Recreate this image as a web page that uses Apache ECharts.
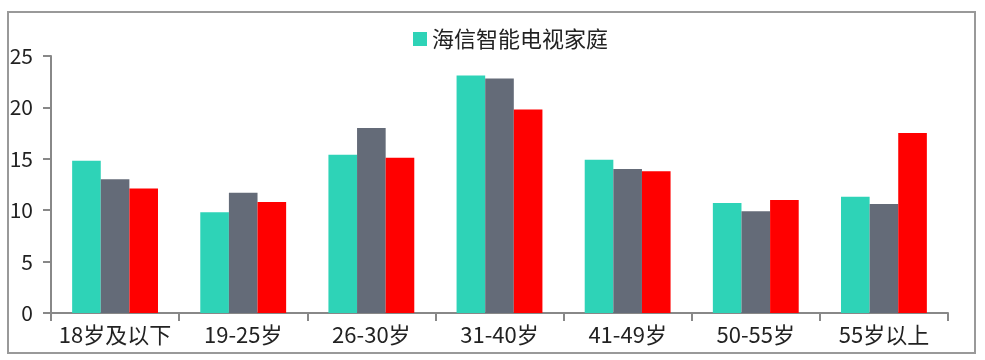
<!DOCTYPE html>
<html><head><meta charset="utf-8">
<script src="https://cdn.jsdelivr.net/npm/echarts@6/dist/echarts.min.js"></script>
<style>html,body{margin:0;padding:0;background:#fff}#c{width:985px;height:360px}</style>
</head><body><div id="c"></div>
<script>
const categories = ['18岁及以下','19-25岁','26-30岁','31-40岁','41-49岁','50-55岁','55岁以上'];
const seriesNames = ['海信智能电视家庭','对比组一','对比组二'];
const tealValues = [14.8, 9.8, 15.4, 23.1, 14.9, 10.7, 11.3];
const grayValues = [13.0, 11.7, 18.0, 22.8, 14.0, 9.9, 10.6];
const redValues  = [12.1, 10.8, 15.1, 19.8, 13.8, 11.0, 17.5];
const yTicks = [0, 5, 10, 15, 20, 25];

const font = '"Noto Sans CJK SC", "Noto Sans", sans-serif';
const chart = echarts.init(document.getElementById('c'), null, {renderer:'canvas'});
chart.setOption({
  animation:false,
  backgroundColor:'#ffffff',
  textStyle:{fontFamily:font},
  graphic:[{type:'rect', shape:{x:8,y:12,width:967,height:341}, style:{fill:'none', stroke:'#999999', lineWidth:2}, silent:true}],
  legend:{data:[seriesNames[0]], top:23, left:408, itemWidth:14, itemHeight:14, itemGap:8, icon:'rect',
    textStyle:{fontSize:22, color:'#222', fontFamily:font}},
  grid:{left:51, right:37, top:56, bottom:47, containLabel:false},
  xAxis:{type:'category', data:categories,
    axisLine:{lineStyle:{color:'#888', width:2}},
    axisTick:{show:true, length:8, lineStyle:{color:'#888', width:2}},
    axisLabel:{fontSize:22, color:'#222', margin:11, interval:0, fontFamily:font}},
  yAxis:{type:'value', min:yTicks[0], max:yTicks[yTicks.length-1], interval:5,
    splitLine:{show:false},
    axisLine:{show:true, lineStyle:{color:'#888', width:2}},
    axisTick:{show:true, length:8, lineStyle:{color:'#888', width:2}},
    axisLabel:{fontSize:21, color:'#222', margin:18, fontFamily:font}},
  series:[
    {name:seriesNames[0], type:'bar', data:tealValues, itemStyle:{color:'#2ED3B7'}, barGap:'0%', barCategoryGap:'33%'},
    {name:seriesNames[1], type:'bar', data:grayValues, itemStyle:{color:'#646B78'}, barGap:'0%', barCategoryGap:'33%'},
    {name:seriesNames[2], type:'bar', data:redValues, itemStyle:{color:'#FF0000'}, barGap:'0%', barCategoryGap:'33%'}
  ]
});
</script></body></html>
